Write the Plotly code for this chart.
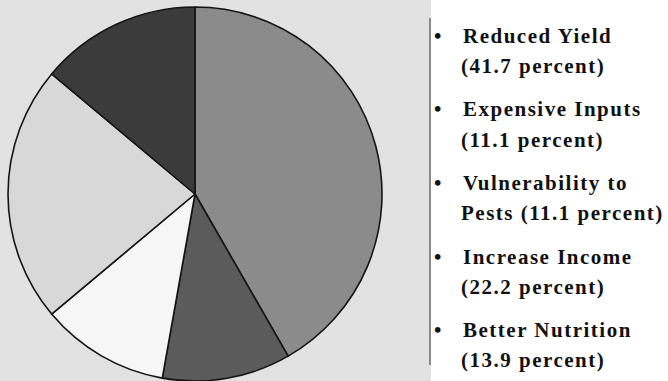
import plotly.graph_objects as go

# Survey responses: reasons given, share of respondents (percent)
labels = ["Reduced Yield", "Expensive Inputs", "Vulnerability to Pests",
          "Increase Income", "Better Nutrition"]
values = [41.7, 11.1, 11.1, 22.2, 13.9]
slice_colors = ["#8b8b8b", "#5b5b5b", "#f6f6f6", "#d8d8d8", "#3b3b3b"]

# Bullet list text, two lines per item
list_lines = [
    ("Reduced Yield", "(41.7 percent)"),
    ("Expensive Inputs", "(11.1 percent)"),
    ("Vulnerability to", "Pests (11.1 percent)"),
    ("Increase Income", "(22.2 percent)"),
    ("Better Nutrition", "(13.9 percent)"),
]

W, H = 668, 381

fig = go.Figure()
fig.add_trace(go.Pie(
    labels=labels,
    values=values,
    sort=False,
    direction="clockwise",
    rotation=0,
    marker=dict(colors=slice_colors, line=dict(color="#151515", width=1.6)),
    textinfo="none",
    hoverinfo="label+percent",
    showlegend=False,
    domain=dict(x=[0.0, 390 / W], y=[0.0, 374 / H]),
))

# grey panel behind the pie and the divider rule
fig.add_shape(type="rect", xref="paper", yref="paper",
              x0=0, x1=431 / W, y0=0, y1=1,
              fillcolor="#e2e2e2", line=dict(width=0), layer="below")
fig.add_shape(type="line", xref="paper", yref="paper",
              x0=430 / W, x1=430 / W, y0=1 - 18 / H, y1=1 - 365 / H,
              line=dict(color="#8a8a8a", width=2))

font = dict(family="Liberation Serif", size=21, color="#111111")
span = '<span style="letter-spacing:1.5px">{}</span>'
first_y, item_gap, line_gap = 36, 73.5, 30
for i, (l1, l2) in enumerate(list_lines):
    y1 = first_y + i * item_gap
    y2 = y1 + line_gap
    fig.add_annotation(x=437 / W, y=1 - y1 / H, xref="paper", yref="paper",
                       text="<b>•</b>", showarrow=False, xanchor="center",
                       yanchor="middle", font=font)
    fig.add_annotation(x=461 / W, y=1 - y1 / H, xref="paper", yref="paper",
                       text="<b>" + span.format(l1) + "</b>", showarrow=False,
                       xanchor="left", yanchor="middle", font=font)
    fig.add_annotation(x=459 / W, y=1 - y2 / H, xref="paper", yref="paper",
                       text="<b>" + span.format(l2) + "</b>", showarrow=False,
                       xanchor="left", yanchor="middle", font=font)

fig.update_layout(
    width=W, height=H,
    margin=dict(l=0, r=0, t=0, b=0),
    paper_bgcolor="white",
    plot_bgcolor="white",
)

fig.write_html("out.html")
